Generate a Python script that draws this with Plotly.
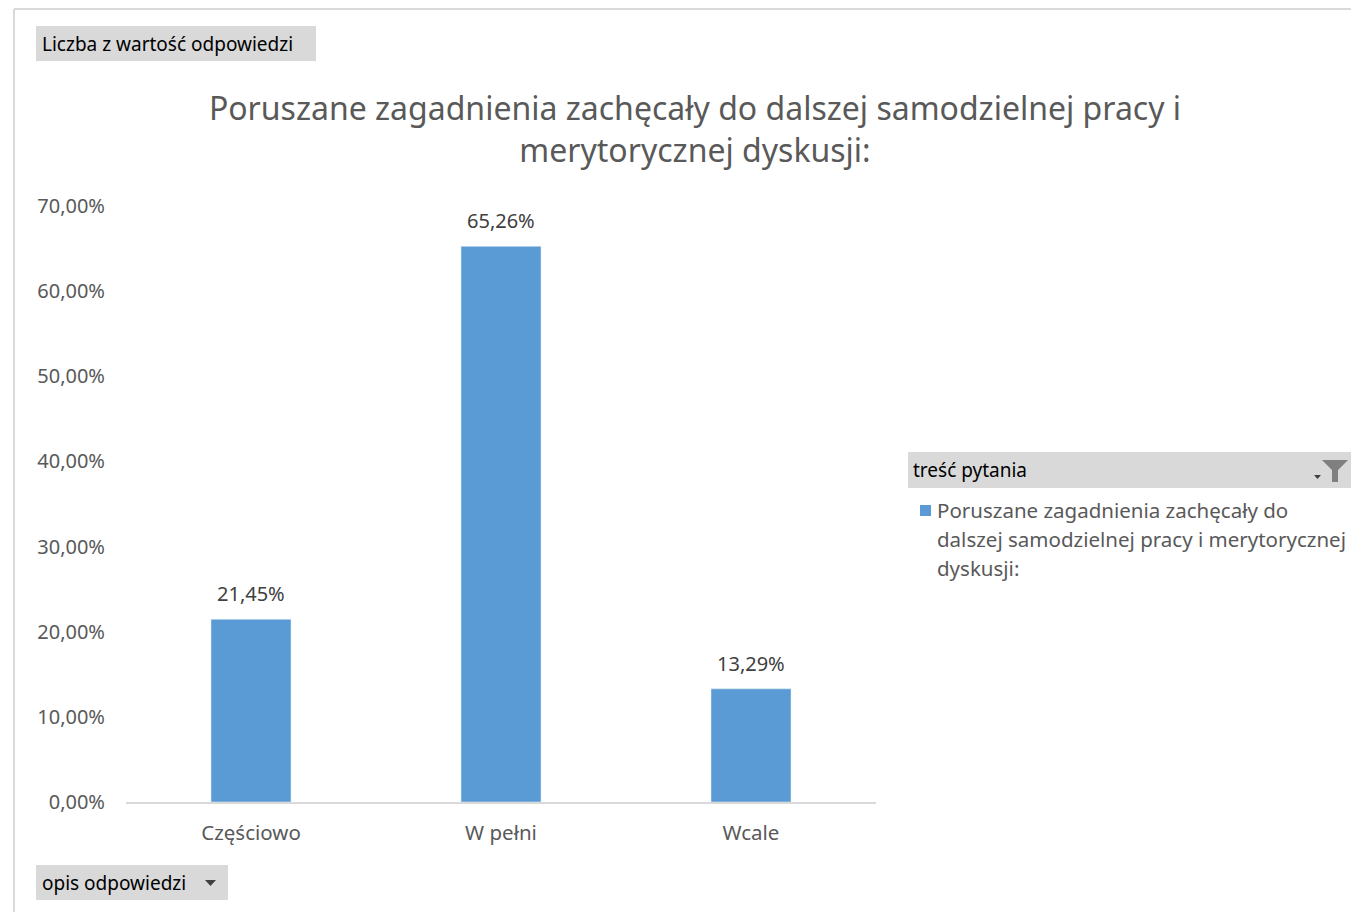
import plotly.graph_objects as go

categories = ["Częściowo", "W pełni", "Wcale"]
values = [21.45, 65.26, 13.29]
tick_vals = [0, 10, 20, 30, 40, 50, 60, 70]
tick_text = [f"{v:.2f}%".replace(".", ",") for v in tick_vals]
series_name = "Poruszane zagadnienia zachęcały do dalszej samodzielnej pracy i merytorycznej dyskusji:"
title_text = "Poruszane zagadnienia zachęcały do dalszej samodzielnej pracy i<br>merytorycznej dyskusji:"
legend_header = "treść pytania"
button_top = "Liczba z wartość odpowiedzi"
button_bottom = "opis odpowiedzi"
legend_lines = ["Poruszane zagadnienia zachęcały do", "dalszej samodzielnej pracy i merytorycznej", "dyskusji:"]

OFF = 8  # default page margin of the html body
W, H = 1359 - OFF, 912 - OFF
L, R, T, B = 126 - OFF, 876 - OFF, 206 - OFF, 802 - OFF
FONT = "Noto Sans"


def px(x):
    return (x - OFF - L) / (R - L)


def py(y):
    return (B - (y - OFF)) / (B - T)


fig = go.Figure()
fig.add_trace(go.Bar(
    x=categories, y=values, name=series_name,
    marker=dict(color="#5b9bd5"),
    showlegend=False, hoverinfo="x+y",
))

shapes = [
    dict(type="line", xref="paper", yref="paper", x0=px(14), x1=px(1359), y0=py(9), y1=py(9),
         line=dict(color="#d9d9d9", width=2)),
    dict(type="line", xref="paper", yref="paper", x0=px(14), x1=px(14), y0=py(9), y1=py(912),
         line=dict(color="#d9d9d9", width=2)),
    dict(type="rect", xref="paper", yref="paper", x0=px(36), x1=px(316), y0=py(26), y1=py(61),
         fillcolor="#d9d9d9", line=dict(width=0), layer="below"),
    dict(type="rect", xref="paper", yref="paper", x0=px(36), x1=px(228), y0=py(865), y1=py(900),
         fillcolor="#d9d9d9", line=dict(width=0), layer="below"),
    dict(type="path", xref="paper", yref="paper",
         path=f"M {px(205)},{py(880)} L {px(216)},{py(880)} L {px(210.5)},{py(886)} Z",
         fillcolor="#404040", line=dict(width=0)),
    dict(type="rect", xref="paper", yref="paper", x0=px(908), x1=px(1356), y0=py(452), y1=py(488),
         fillcolor="#d9d9d9", line=dict(width=0), layer="below"),
    dict(type="rect", xref="paper", yref="paper", x0=px(920), x1=px(931), y0=py(505), y1=py(516),
         fillcolor="#5b9bd5", line=dict(width=0)),
    dict(type="path", xref="paper", yref="paper",
         path=f"M {px(1322)},{py(460)} L {px(1348)},{py(460)} L {px(1338)},{py(470)} L {px(1338)},{py(482)} "
              f"L {px(1332)},{py(482)} L {px(1332)},{py(470)} Z",
         fillcolor="#7f7f7f", line=dict(width=0)),
    dict(type="path", xref="paper", yref="paper",
         path=f"M {px(1314)},{py(475)} L {px(1321)},{py(475)} L {px(1317.5)},{py(479)} Z",
         fillcolor="#404040", line=dict(width=0)),
]

annotations = [
    dict(text=button_top, xref="paper", yref="paper", x=px(40), y=py(44), xanchor="left", yanchor="middle",
         showarrow=False, font=dict(family=FONT, size=19, color="#000000")),
    dict(text=button_bottom, xref="paper", yref="paper", x=px(40), y=py(883), xanchor="left",
         yanchor="middle", showarrow=False, font=dict(family=FONT, size=19, color="#000000")),
    dict(text=legend_header, xref="paper", yref="paper", x=px(911), y=py(470), xanchor="left",
         yanchor="middle", showarrow=False, font=dict(family=FONT, size=19, color="#000000")),
]
for i, line in enumerate(legend_lines):
    annotations.append(dict(text=line, xref="paper", yref="paper", x=px(935), y=py(510 + 29 * i),
                            xanchor="left", yanchor="middle", showarrow=False,
                            font=dict(family=FONT, size=20.5, color="#595959")))
# data labels above bars
for c, v in zip(categories, values):
    annotations.append(dict(text=f"{v:.2f}%".replace(".", ","), x=c, y=v, xref="x", yref="y",
                            yanchor="bottom", yshift=10, showarrow=False,
                            font=dict(family=FONT, size=20, color="#404040")))

fig.update_layout(
    width=W, height=H, autosize=False,
    margin=dict(l=L, r=W - R, t=T, b=H - B, pad=0),
    paper_bgcolor="white", plot_bgcolor="white",
    bargap=0.68,
    title=dict(text=title_text, x=px(695), xref="paper", xanchor="center",
               y=1 - (120 - OFF) / H, yanchor="middle",
               font=dict(family=FONT, size=32, color="#595959")),
    xaxis=dict(showgrid=False, showline=True, linecolor="#d9d9d9", linewidth=2, ticks="",
               tickfont=dict(family=FONT, size=20.5, color="#595959"), ticklabelstandoff=11),
    yaxis=dict(range=[0, 70], tickvals=tick_vals, ticktext=tick_text, showgrid=False,
               zeroline=False, showline=False, ticks="",
               tickfont=dict(family=FONT, size=20, color="#595959"), ticklabelstandoff=20),
    shapes=shapes, annotations=annotations,
    font=dict(family=FONT),
)

fig.write_html("out.html")
